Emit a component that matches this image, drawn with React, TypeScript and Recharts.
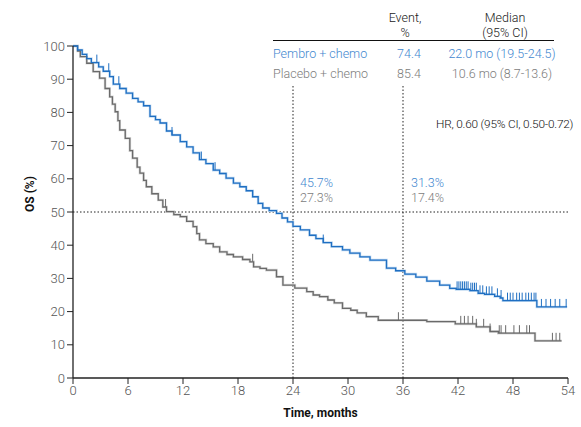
import { ComposedChart, Line, Scatter, XAxis, YAxis, ReferenceLine } from "recharts";

// Kaplan-Meier steps (months, OS %)
const pembroT = [0, 0.5, 1, 1.5, 2, 2.8, 3.3, 4.0, 4.4, 5.1, 5.8, 6.5, 7.1, 7.7, 8.4, 9.0, 9.5, 10.2, 10.8, 11.7, 12.4, 13.1, 13.8, 14.5, 15.3, 16.0, 16.7, 17.5, 18.2, 18.9, 19.6, 20.2, 20.7, 21.4, 22.2, 22.8, 23.4, 24.0, 24.8, 25.8, 26.5, 27.3, 28.2, 29.4, 30.2, 31.3, 32.4, 34.2, 35.2, 36.2, 37.4, 38.6, 40.0, 41.1, 41.8, 43.3, 44.2, 44.9, 46.0, 46.6, 46.9, 50.6, 53.9];
const pembroS = [100, 98.8, 97.5, 96.2, 95, 93.7, 92.4, 90.8, 88.5, 87.2, 85.8, 84.2, 83.2, 82.0, 78.8, 77.8, 76.8, 74.4, 73.2, 71.2, 69.6, 67.8, 65.8, 64.6, 62.6, 61.6, 60.2, 58.7, 57.6, 56.4, 54.6, 52.6, 51.2, 50.4, 49.6, 48.2, 47.0, 45.7, 44.6, 43.0, 42.0, 40.8, 39.6, 38.6, 37.6, 36.5, 35.5, 33.1, 32.3, 31.3, 30.4, 29.2, 28.0, 27.0, 26.7, 26.3, 25.5, 25.2, 24.6, 24.1, 23.3, 21.4, 21.4];
const pembroCensor = [2.6, 3.9, 5.0, 10.8, 14.0, 15.5, 27.3, 41.9, 42.1, 42.3, 42.5, 42.7, 42.9, 43.1, 43.4, 43.6, 43.8, 44.0, 44.4, 44.7, 45.1, 45.4, 45.7, 46.3, 46.7, 47.4, 47.7, 48.0, 48.4, 48.7, 49.0, 49.4, 49.7, 50.0, 50.3, 50.5, 51.1, 51.6, 52.1, 52.6, 53.1, 53.8];

const placeboT = [0, 0.5, 0.8, 1.5, 2.2, 2.9, 3.5, 4.0, 4.3, 4.6, 4.9, 5.1, 5.7, 6.2, 6.5, 7.0, 7.3, 7.7, 8.0, 8.6, 9.3, 9.8, 10.2, 11.0, 11.7, 12.4, 13.1, 13.5, 13.8, 14.5, 15.3, 16.0, 16.8, 17.5, 18.5, 19.3, 19.7, 20.4, 21.1, 22.2, 22.9, 24.2, 25.5, 26.2, 26.9, 27.8, 28.5, 29.4, 30.3, 31.0, 32.0, 33.3, 38.6, 41.7, 44.0, 45.5, 46.4, 50.4, 53.3];
const placeboS = [100, 98.5, 96.8, 94.8, 92.3, 90.3, 87.2, 84.7, 82.5, 80.2, 77.5, 74.7, 72.2, 68.5, 66.2, 63.5, 61.7, 59.5, 57.6, 55.5, 53.6, 51.5, 50.1, 49.2, 48.6, 47.2, 45.6, 43.5, 41.6, 40.5, 39.5, 38.0, 37.2, 36.5, 35.7, 35.0, 33.5, 33.0, 32.5, 30.5, 28.0, 27.1, 26.0, 25.0, 24.5, 23.5, 22.6, 21.0, 20.4, 19.6, 18.5, 17.4, 17.0, 16.3, 15.4, 14.0, 13.5, 11.2, 11.2];
const placeboCensor = [10.1, 19.6, 35.5, 42.3, 42.7, 43.1, 43.6, 44.0, 44.8, 45.5, 46.5, 46.7, 47.2, 48.1, 48.7, 49.5, 49.8, 52.3, 52.7, 53.1];

const xTicks = [0, 6, 12, 18, 24, 30, 36, 42, 48, 54];
const yTicks = [0, 10, 20, 30, 40, 50, 60, 70, 80, 90, 100];

const BLUE = "#1f6fc2";
const BLUE_TXT = "#3f87cf";
const GREY = "#6a6a6a";
const GREY_TXT = "#7c7c7c";
const FONT = "Roboto, 'Open Sans', sans-serif";

const toPoints = (t: number[], s: number[]) => t.map((v, i) => ({ t: v, s: s[i] }));
const stepAt = (t: number[], s: number[], x: number) => {
  let v = s[0];
  for (let i = 0; i < t.length; i++) if (t[i] <= x) v = s[i];
  return v;
};

const pembro = toPoints(pembroT, pembroS);
const placebo = toPoints(placeboT, placeboS);
const pembroTicks = pembroCensor.map((t) => ({ t, s: stepAt(pembroT, pembroS, t) }));
const placeboTicks = placeboCensor.map((t) => ({ t, s: stepAt(placeboT, placeboS, t) }));

const censorShape = (color: string) => (props: any) => (
  <line x1={props.cx} x2={props.cx} y1={props.cy} y2={props.cy - 8} stroke={color} strokeWidth={1} />
);

const txt = (left: number, top: number, color: string, extra: any = {}) => ({
  position: "absolute" as const,
  left,
  top,
  color,
  fontFamily: FONT,
  fontWeight: 300,
  fontSize: 12.5,
  lineHeight: "15px",
  whiteSpace: "nowrap" as const,
  ...extra,
});

export default function App() {
  return (
    <div style={{ position: "absolute", left: 0, top: 0, width: 581, height: 427, background: "#fff" }}>
      <ComposedChart width={581} height={427} margin={{ top: 46, right: 13, bottom: 4, left: 8 }}>
        <XAxis
          type="number"
          dataKey="t"
          domain={[0, 54]}
          ticks={xTicks}
          interval={0}
          height={45}
          axisLine={{ stroke: "#222", strokeWidth: 1.3 }}
          tickLine={{ stroke: "#222" }}
          tickSize={6}
          tick={{ fill: "#555", fontSize: 13, fontFamily: FONT, fontWeight: 300 }}
          label={{ value: "Time, months", position: "insideBottom", offset: 6, fill: "#111", fontSize: 12, fontWeight: 700, fontFamily: FONT }}
        />
        <YAxis
          type="number"
          dataKey="s"
          domain={[0, 100]}
          ticks={yTicks}
          interval={0}
          width={65}
          axisLine={{ stroke: "#222", strokeWidth: 1.3 }}
          tickLine={{ stroke: "#222" }}
          tickSize={6}
          tick={{ fill: "#555", fontSize: 13, fontFamily: FONT, fontWeight: 300 }}
          label={{ value: "OS (%)", angle: -90, position: "insideLeft", offset: 22, fill: "#111", fontSize: 12, fontWeight: 700, fontFamily: FONT }}
        />
        <ReferenceLine y={50} stroke="#222" strokeDasharray="1.5 2" />
        <ReferenceLine segment={[{ x: 24, y: 0 }, { x: 24, y: 88 }]} stroke="#222" strokeDasharray="1.5 2" />
        <ReferenceLine segment={[{ x: 36, y: 0 }, { x: 36, y: 88 }]} stroke="#222" strokeDasharray="1.5 2" />
        <Line data={placebo} dataKey="s" type="stepAfter" stroke="#d9d9d9" strokeWidth={2.6} dot={false} isAnimationActive={false} />
        <Line data={pembro} dataKey="s" type="stepAfter" stroke="#c3dbf2" strokeWidth={2.6} dot={false} isAnimationActive={false} />
        <Line data={placebo} dataKey="s" type="stepAfter" stroke={GREY} strokeWidth={1.3} dot={false} isAnimationActive={false} />
        <Line data={pembro} dataKey="s" type="stepAfter" stroke={BLUE} strokeWidth={1.3} dot={false} isAnimationActive={false} />
        <Scatter data={placeboTicks} dataKey="s" shape={censorShape(GREY)} isAnimationActive={false} />
        <Scatter data={pembroTicks} dataKey="s" shape={censorShape(BLUE)} isAnimationActive={false} />
      </ComposedChart>

      <div style={txt(388, 10, "#222", { width: 34, textAlign: "center" })}>Event,</div>
      <div style={txt(388, 25, "#222", { width: 34, textAlign: "center" })}>%</div>
      <div style={txt(455, 10, "#222", { width: 100, textAlign: "center" })}>Median</div>
      <div style={txt(455, 25, "#222", { width: 100, textAlign: "center" })}>(95% CI)</div>
      <div style={{ position: "absolute", left: 273, top: 40, width: 281, height: 1, background: "#111" }} />
      <div style={txt(273, 46, BLUE_TXT)}>Pembro + chemo</div>
      <div style={txt(389, 46, BLUE_TXT, { width: 40, textAlign: "center" })}>74.4</div>
      <div style={txt(447, 46, BLUE_TXT, { width: 110, textAlign: "center" })}>22.0 mo (19.5-24.5)</div>
      <div style={txt(273, 66, GREY_TXT)}>Placebo + chemo</div>
      <div style={txt(389, 66, GREY_TXT, { width: 40, textAlign: "center" })}>85.4</div>
      <div style={txt(447, 66, GREY_TXT, { width: 110, textAlign: "center" })}>10.6 mo (8.7-13.6)</div>
      <div style={txt(436, 117, "#111", { fontSize: 11.8, letterSpacing: -0.2 })}>HR, 0.60 (95% CI, 0.50-0.72)</div>
      <div style={txt(300, 175, BLUE_TXT)}>45.7%</div>
      <div style={txt(300, 190, GREY_TXT)}>27.3%</div>
      <div style={txt(411, 175, BLUE_TXT)}>31.3%</div>
      <div style={txt(411, 190, GREY_TXT)}>17.4%</div>
    </div>
  );
}
